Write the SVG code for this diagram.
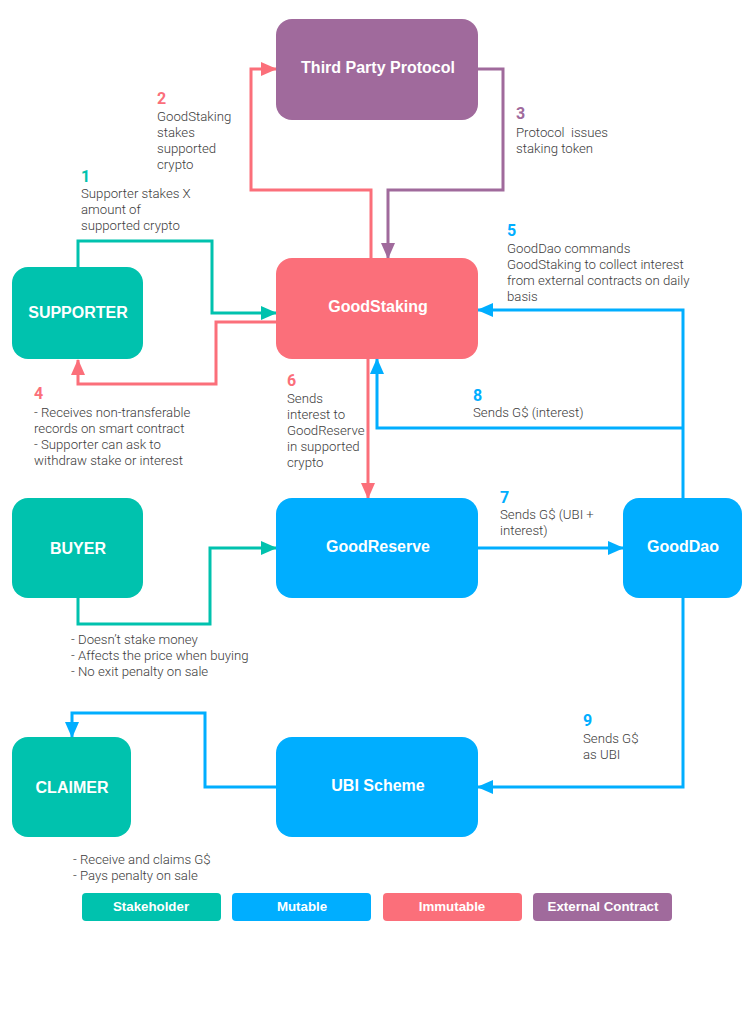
<svg xmlns="http://www.w3.org/2000/svg" width="755" height="1019" viewBox="0 0 755 1019">
<style>
.bg{fill:#ffffff}
.teal{fill:#00C2AE}
.blue{fill:#00AEFF}
.red{fill:#FB6F7A}
.purple{fill:#A06A9C}
.title{font-family:"Liberation Sans",Arial,sans-serif;font-weight:700;font-size:16px;fill:#ffffff;text-anchor:middle}
.leg{font-family:"Liberation Sans",Arial,sans-serif;font-weight:700;font-size:13.3px;fill:#ffffff;text-anchor:middle}
.num{font-family:Roboto,"Liberation Sans",sans-serif;font-weight:700;font-size:16px}
.desc{font-family:Roboto,"Liberation Sans",sans-serif;font-weight:300;font-size:13.2px;fill:#3c3c3c}
.ln{fill:none;stroke-width:3;stroke-linejoin:miter}
.lt{stroke:#00C2AE}.lb{stroke:#00AEFF}.lr{stroke:#FB6F7A}.lp{stroke:#A06A9C}
</style>
<defs>
<marker id="at" markerUnits="userSpaceOnUse" markerWidth="16" markerHeight="14" refX="15" refY="7" orient="auto"><path d="M0,0 L16,7 L0,14 z" fill="#00C2AE"/></marker>
<marker id="ab" markerUnits="userSpaceOnUse" markerWidth="16" markerHeight="14" refX="15" refY="7" orient="auto"><path d="M0,0 L16,7 L0,14 z" fill="#00AEFF"/></marker>
<marker id="ar" markerUnits="userSpaceOnUse" markerWidth="16" markerHeight="14" refX="15" refY="7" orient="auto"><path d="M0,0 L16,7 L0,14 z" fill="#FB6F7A"/></marker>
<marker id="ap" markerUnits="userSpaceOnUse" markerWidth="16" markerHeight="14" refX="15" refY="7" orient="auto"><path d="M0,0 L16,7 L0,14 z" fill="#A06A9C"/></marker>
</defs>
<rect class="bg" x="0" y="0" width="755" height="1019"/>

<g id="connectors">
<polyline class="ln lt" points="78,267 78,241 212,241 212,313 276,313" marker-end="url(#at)"/>
<polyline class="ln lr" points="276,322 216,322 216,384 78,384 78,360" marker-end="url(#ar)"/>
<polyline class="ln lr" points="371,258 371,190 251,190 251,69 276,69" marker-end="url(#ar)"/>
<polyline class="ln lp" points="478,69 503,69 503,190 388,190 388,258" marker-end="url(#ap)"/>
<polyline class="ln lb" points="683,498 683,310 478,310" marker-end="url(#ab)"/>
<polyline class="ln lb" points="683,428 377,428 377,359" marker-end="url(#ab)"/>
<polyline class="ln lr" points="368,359 368,498" marker-end="url(#ar)"/>
<polyline class="ln lb" points="478,548 623,548" marker-end="url(#ab)"/>
<polyline class="ln lt" points="78,598 78,624 210,624 210,548 276,548" marker-end="url(#at)"/>
<polyline class="ln lb" points="683,598 683,787 478,787" marker-end="url(#ab)"/>
<polyline class="ln lb" points="276,787 205,787 205,713 72,713 72,737" marker-end="url(#ab)"/>
</g>

<g id="third-party">
<rect class="purple" x="276" y="19" width="202" height="101" rx="16"/>
<text class="title" x="378" y="73">Third Party Protocol</text>
</g>
<g id="goodstaking">
<rect class="red" x="276" y="258" width="202" height="101" rx="16"/>
<text class="title" x="378" y="312">GoodStaking</text>
</g>
<g id="supporter">
<rect class="teal" x="12" y="267" width="131" height="92" rx="16"/>
<text class="title" x="78" y="318">SUPPORTER</text>
</g>
<g id="goodreserve">
<rect class="blue" x="276" y="498" width="202" height="100" rx="16"/>
<text class="title" x="378" y="552">GoodReserve</text>
</g>
<g id="buyer">
<rect class="teal" x="12" y="498" width="131" height="100" rx="16"/>
<text class="title" x="78" y="554">BUYER</text>
</g>
<g id="gooddao">
<rect class="blue" x="623" y="498" width="119" height="100" rx="16"/>
<text class="title" x="683" y="552">GoodDao</text>
</g>
<g id="claimer">
<rect class="teal" x="12" y="737" width="119" height="100" rx="16"/>
<text class="title" x="72" y="793">CLAIMER</text>
</g>
<g id="ubi-scheme">
<rect class="blue" x="276" y="737" width="202" height="100" rx="16"/>
<text class="title" x="378" y="791">UBI Scheme</text>
</g>

<g id="labels">
<text class="num" x="81" y="182" fill="#00C2AE">1</text>
<text class="desc" x="81" y="198">Supporter stakes X</text>
<text class="desc" x="81" y="214">amount of</text>
<text class="desc" x="81" y="230">supported crypto</text>

<text class="num" x="157" y="104" fill="#FB6F7A">2</text>
<text class="desc" x="157" y="121">GoodStaking</text>
<text class="desc" x="157" y="137">stakes</text>
<text class="desc" x="157" y="153">supported</text>
<text class="desc" x="157" y="169">crypto</text>

<text class="num" x="516" y="119" fill="#A06A9C">3</text>
<text class="desc" x="516" y="137" xml:space="preserve">Protocol  issues</text>
<text class="desc" x="516" y="153">staking token</text>

<text class="num" x="34" y="399" fill="#FB6F7A">4</text>
<text class="desc" x="34" y="417">- Receives non-transferable</text>
<text class="desc" x="34" y="433">records on smart contract</text>
<text class="desc" x="34" y="449">- Supporter can ask to</text>
<text class="desc" x="34" y="465">withdraw stake or interest</text>

<text class="num" x="507" y="236" fill="#00AEFF">5</text>
<text class="desc" x="507" y="253">GoodDao commands</text>
<text class="desc" x="507" y="269">GoodStaking to collect interest</text>
<text class="desc" x="507" y="285">from external contracts on daily</text>
<text class="desc" x="507" y="301">basis</text>

<text class="num" x="287" y="386" fill="#FB6F7A">6</text>
<text class="desc" x="287" y="403">Sends</text>
<text class="desc" x="287" y="419">interest to</text>
<text class="desc" x="287" y="435">GoodReserve</text>
<text class="desc" x="287" y="451">in supported</text>
<text class="desc" x="287" y="467">crypto</text>

<text class="num" x="500" y="503" fill="#00AEFF">7</text>
<text class="desc" x="500" y="519">Sends G$ (UBI +</text>
<text class="desc" x="500" y="535">interest)</text>

<text class="num" x="473" y="401" fill="#00AEFF">8</text>
<text class="desc" x="473" y="417">Sends G$ (interest)</text>

<text class="num" x="583" y="726" fill="#00AEFF">9</text>
<text class="desc" x="583" y="743">Sends G$</text>
<text class="desc" x="583" y="759">as UBI</text>

<text class="desc" x="71" y="644">- Doesn’t stake money</text>
<text class="desc" x="71" y="660">- Affects the price when buying</text>
<text class="desc" x="71" y="676">- No exit penalty on sale</text>

<text class="desc" x="73" y="864">- Receive and claims G$</text>
<text class="desc" x="73" y="880">- Pays penalty on sale</text>
</g>

<g id="legend">
<rect class="teal" x="82" y="893" width="139" height="28" rx="4"/>
<text class="leg" x="151" y="911">Stakeholder</text>
<rect class="blue" x="232" y="893" width="139" height="28" rx="4"/>
<text class="leg" x="302" y="911">Mutable</text>
<rect class="red" x="383" y="893" width="139" height="28" rx="4"/>
<text class="leg" x="452" y="911">Immutable</text>
<rect class="purple" x="533" y="893" width="139" height="28" rx="4"/>
<text class="leg" x="603" y="911">External Contract</text>
</g>
</svg>
